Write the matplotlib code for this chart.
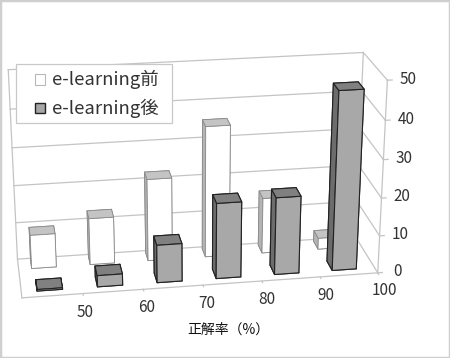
import numpy as np
import matplotlib
matplotlib.use('Agg')
import matplotlib.pyplot as plt
from matplotlib.patches import Rectangle

plt.rcParams['font.family'] = ['Noto Sans CJK JP', 'DejaVu Sans']

bin_left = [40, 50, 60, 70, 80, 90]
before = [9, 12.5, 22, 35, 15, 3]
after = [0.4, 3, 10, 20, 20.5, 47]
x_ticks = [50, 60, 70, 80, 90, 100]
z_ticks = [0, 10, 20, 30, 40, 50]
names = ['e-learning前', 'e-learning後']

# bottom, top, front, back, left, right
white_faces = ['#ffffff', '#c4c4c4', '#ffffff', '#ffffff', '#b4b4b4', '#ffffff']
grey_faces = ['#a6a6a6', '#808080', '#a8a8a8', '#a8a8a8', '#6c6c6c', '#a8a8a8']

fig = plt.figure(figsize=(4.5, 3.58), dpi=100)
ax = fig.add_axes([-0.25, -0.212, 1.34, 1.42], projection='3d', computed_zorder=False)
ax.set_proj_type('persp', focal_length=0.55)
ax.view_init(elev=22, azim=-99)
ax.set_box_aspect((1.8, 0.45, 1.03), zoom=0.81)
ax.set_xlim(40, 100)
ax.set_ylim(0, 2)
ax.set_zlim(0, 50)
ax.set_axis_off()

wall = '#c4c4c4'
for z in z_ticks:
    ax.plot([40, 100], [2, 2], [z, z], color=wall, lw=0.9, zorder=1)
    ax.plot([100, 100], [0, 2], [z, z], color=wall, lw=0.9, zorder=1)
ax.plot([40, 40], [0, 2], [0, 0], color=wall, lw=0.9, zorder=1)
ax.plot([40, 100], [0, 0], [0, 0], color=wall, lw=0.9, zorder=1)
ax.plot([100, 100], [0, 0], [0, 50], color=wall, lw=0.9, zorder=1)
ax.plot([100, 100], [2, 2], [0, 50], color=wall, lw=0.9, zorder=1)
ax.plot([40, 40], [2, 2], [0, 50], color=wall, lw=0.9, zorder=1)

order = 2
for i in range(5, -1, -1):
    ax.bar3d(bin_left[i] + 2.2, 1.45, 0, 4.2, 0.45, before[i], color=white_faces,
             edgecolor='#8a8a8a', linewidth=0.6, shade=False, zorder=order)
    order += 1
for i in range(5, -1, -1):
    ax.bar3d(bin_left[i] + 2.6, 0.28, 0, 4.2, 0.5, after[i], color=grey_faces,
             edgecolor='#222222', linewidth=0.8, shade=False, zorder=order)
    order += 1

for x in x_ticks:
    ax.plot([x, x], [0, -0.08], [0, 0], color=wall, lw=0.9, zorder=1)
    ax.text(x, -0.55, -2, str(x), fontsize=11, color='#333333', ha='center', va='center')
for z in z_ticks:
    ax.plot([100, 100.8], [0, 0], [z, z], color=wall, lw=0.9, zorder=1)
    ax.text(103.5, 0, z, str(z), fontsize=11, color='#333333', ha='center', va='center')

fig.text(0.507, 0.078, '正解率（%）', fontsize=10, color='#111111', ha='center', va='center')

# legend box
fig.add_artist(Rectangle((0.036, 0.656), 0.346, 0.165, transform=fig.transFigure, facecolor='white',
                         edgecolor='#c8c8c8', linewidth=0.9, zorder=10))
fig.add_artist(Rectangle((0.078, 0.763), 0.023, 0.03, transform=fig.transFigure, facecolor='#ffffff',
                         edgecolor='#b8b8b8', linewidth=0.8, zorder=11))
fig.add_artist(Rectangle((0.078, 0.683), 0.023, 0.03, transform=fig.transFigure, facecolor='#a6a6a6',
                         edgecolor='#222222', linewidth=1.0, zorder=11))
fig.text(0.115, 0.779, names[0], fontsize=13.3, color='#333333', va='center', zorder=11)
fig.text(0.115, 0.698, names[1], fontsize=13.3, color='#333333', va='center', zorder=11)

fig.add_artist(Rectangle((0, 0), 1, 1, transform=fig.transFigure, fill=False,
                         edgecolor='#cfcfcf', linewidth=2.5, zorder=20))

fig.savefig('out.png', dpi=100)
